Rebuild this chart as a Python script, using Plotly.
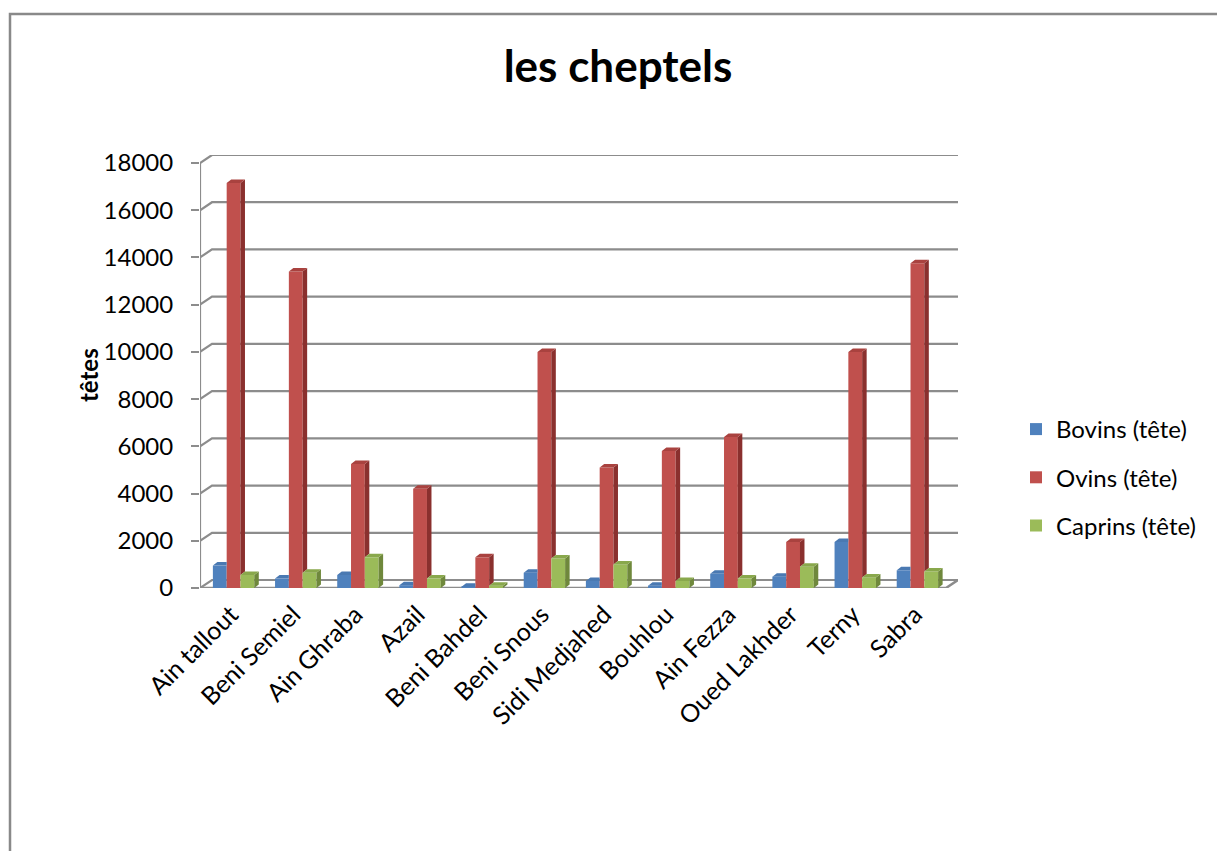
import plotly.graph_objects as go

# ---- data -------------------------------------------------------------
categories = ["Ain tallout", "Beni Semiel", "Ain Ghraba", "Azail", "Beni Bahdel",
              "Beni Snous", "Sidi Medjahed", "Bouhlou", "Ain Fezza",
              "Oued Lakhder", "Terny", "Sabra"]
bovins = [950, 400, 550, 120, 50, 650, 300, 100, 600, 480, 1950, 750]
ovins = [17150, 13400, 5250, 4200, 1300, 10000, 5100, 5800, 6400, 1950, 10000, 13750]
caprins = [550, 650, 1300, 400, 100, 1250, 1000, 300, 400, 900, 450, 700]
y_ticks = [0, 2000, 4000, 6000, 8000, 10000, 12000, 14000, 16000, 18000]

series_names = ["Bovins (tête)", "Ovins (tête)", "Caprins (tête)"]
series_values = [bovins, ovins, caprins]

# ---- styling ----------------------------------------------------------
front_colors = ["#4f81bd", "#c0504d", "#9bbb59"]
side_colors = ["#3a6293", "#8a302e", "#6f883c"]
top_colors = ["#4a79b2", "#a9423f", "#89a84c"]
grid_color = "#8c8c8c"
FONT = "Lato"

W, H = 1217, 851
PLOT_L, PLOT_R, PLOT_T, PLOT_B = 200, 958, 155, 588
CAT_PX = 62.17                 # pixels per category slot
Y_PX = 425 / 18000             # pixels per head on the front plane
WALL_DX = 12 / CAT_PX          # back wall offset (x, data units)
WALL_DY = 8 / Y_PX             # back wall offset (y, data units)
BAR_W = 13.8 / CAT_PX
BAR_SHIFT = 2.5 / CAT_PX
DEPTH_DX = 4.5 / CAT_PX        # bar depth, horizontal part
DEPTH_DY = 3.5 / Y_PX          # bar depth, vertical part

n = len(categories)
x_min = -0.5
x_max = n - 0.5 + WALL_DX
y_max = max(y_ticks) + WALL_DY

fig = go.Figure()

# ---- bars: front faces as bars, side/top faces as filled polygons -----
for j, vals in enumerate(series_values):
    off = BAR_SHIFT - 1.5 * BAR_W + j * BAR_W
    fig.add_trace(go.Bar(
        x=list(range(n)), y=vals, width=BAR_W, offset=off,
        marker=dict(color=front_colors[j], line=dict(width=0)),
        name=series_names[j], legendgroup=series_names[j],
        hoverinfo="skip",
    ))

for j, vals in enumerate(series_values):
    off = BAR_SHIFT - 1.5 * BAR_W + j * BAR_W
    nxt = series_values[j + 1] if j + 1 < len(series_values) else [0] * n
    sx, sy, tx, ty = [], [], [], []
    for i, v in enumerate(vals):
        x0 = i + off
        x1 = x0 + BAR_W
        # side face, hidden below the neighbouring bar's top
        b = min(v, nxt[i])
        if b < v:
            sx += [x1, x1 + DEPTH_DX, x1 + DEPTH_DX, x1, x1, None]
            sy += [b, b + DEPTH_DY, v + DEPTH_DY, v, b, None]
        # top face, cut where a taller neighbour stands in front
        right = x1 + DEPTH_DX if nxt[i] <= v else x1
        tx += [x0, x0 + DEPTH_DX, right, x1, x0, None]
        ty += [v, v + DEPTH_DY, v + DEPTH_DY, v, v, None]
    fig.add_trace(go.Scatter(x=sx, y=sy, mode="lines", fill="toself",
                             fillcolor=side_colors[j], line=dict(width=0),
                             showlegend=False, hoverinfo="skip"))
    fig.add_trace(go.Scatter(x=tx, y=ty, mode="lines", fill="toself",
                             fillcolor=top_colors[j], line=dict(width=0),
                             showlegend=False, hoverinfo="skip"))

# ---- back wall gridlines, floor and front axis ------------------------
shapes = []
for v in y_ticks:
    shapes.append(dict(
        type="path", layer="below", xref="x", yref="y",
        path=f"M{x_min},{v} L{x_min + WALL_DX},{v + WALL_DY} L{x_max},{v + WALL_DY}",
        line=dict(color=grid_color, width=2.2),
    ))
shapes.append(dict(
    type="path", layer="below", xref="x", yref="y",
    path=f"M{x_min},0 L{x_max - WALL_DX},0 L{x_max},{WALL_DY}",
    line=dict(color=grid_color, width=2.6),
))
shapes.append(dict(
    type="line", layer="below", xref="x", yref="y",
    x0=x_min, y0=0, x1=x_min, y1=max(y_ticks),
    line=dict(color=grid_color, width=2.2),
))


def px_x(p):
    return (p - PLOT_L) / (PLOT_R - PLOT_L)


def px_y(p):
    return (PLOT_B - p) / (PLOT_B - PLOT_T)


# chart frame
shapes.append(dict(
    type="rect", layer="below", xref="paper", yref="paper",
    x0=px_x(10), x1=px_x(1240), y0=px_y(14), y1=px_y(880),
    line=dict(color="#898989", width=2.5), fillcolor="rgba(0,0,0,0)",
))

fig.update_layout(
    width=W, height=H,
    margin=dict(l=PLOT_L, r=W - PLOT_R, t=PLOT_T, b=H - PLOT_B, pad=0),
    paper_bgcolor="white", plot_bgcolor="rgba(0,0,0,0)",
    barmode="overlay",
    font=dict(family=FONT, color="black"),
    title=dict(text="<b>les cheptels</b>", font=dict(family=FONT, size=44, color="black"),
               x=618 / W, xref="container", xanchor="center",
               y=1 - 67 / H, yref="container", yanchor="middle"),
    xaxis=dict(range=[x_min, x_max], tickmode="array", tickvals=list(range(n)),
               ticktext=categories, tickangle=-45, showgrid=False, zeroline=False,
               showline=False, ticks="", ticklabelstandoff=6,
               tickfont=dict(family=FONT, size=25, color="black"), fixedrange=True),
    yaxis=dict(range=[0, y_max], tickmode="array", tickvals=y_ticks,
               ticktext=[str(v) for v in y_ticks], showgrid=False, zeroline=False,
               showline=False, ticks="outside", ticklen=8, tickwidth=2,
               tickcolor=grid_color, ticklabelstandoff=13,
               tickfont=dict(family=FONT, size=24, color="black"), fixedrange=True),
    legend=dict(x=px_x(1016), xanchor="left", y=px_y(407), yanchor="top",
                font=dict(family=FONT, size=24, color="black"),
                bgcolor="rgba(0,0,0,0)", tracegroupgap=14, itemwidth=30),
    shapes=shapes,
    annotations=[dict(text="<b>têtes</b>", textangle=-90, showarrow=False,
                      xref="paper", yref="paper", x=px_x(88), y=px_y(375),
                      xanchor="center", yanchor="middle",
                      font=dict(family=FONT, size=24, color="black"))],
)

fig.write_html("out.html")
